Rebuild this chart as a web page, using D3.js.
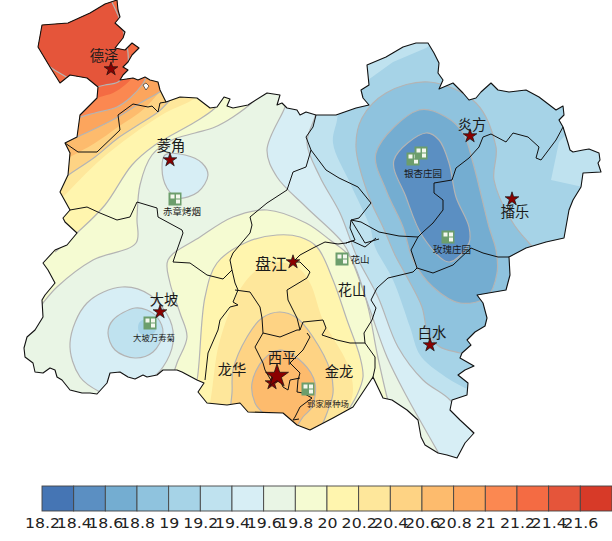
<!DOCTYPE html>
<html>
<head>
<meta charset="utf-8">
<script src="https://cdnjs.cloudflare.com/ajax/libs/d3/7.8.5/d3.min.js"></script>
<style>
  html, body { margin: 0; padding: 0; background: #fff; }
  svg { display: block; }
  text { font-family: "Noto Sans CJK SC", sans-serif; fill: #1a1a1a; }
  .legend-axis text { font-family: "DejaVu Sans", sans-serif; font-size: 13.7px; fill: #222; }
</style>
</head>
<body>
<div id="chart"></div>
<script>
// Mean temperature map.
// All geometry is in map units, pushed through the mapX/mapY scales below.

var legendTicks = [18.2,18.4,18.6,18.8,19,19.2,19.4,19.6,19.8,20,20.2,20.4,20.6,20.8,21,21.2,21.4,21.6];
var bandColors = ["#4575b4","#5b8fc2","#74add1","#8fc3de","#a6d3e7","#bfe2ef","#d7eef5","#e9f5e5","#f5fbd2",
                  "#fff5ae","#fee79b","#fed384","#fdbb6d","#fca55d","#fb8851","#f46b43","#e5553a","#d73a28"];

// outer boundary of the area
var outline = [[105,4],[117,0],[118,10],[120,17],[115,23],[125,32],[123,38],[115,48],[125,50],[132,43],[139,48],[132,55],[128,62],[123,67],[128,70],[123,75],[120,80],[133,78],[138,80],[145,77],[150,80],[158,82],[160,90],[166,102],[180,97],[197,98],[210,108],[217,107],[224,97],[230,99],[227,106],[233,108],[248,105],[267,93],[280,95],[277,105],[282,103],[287,108],[297,110],[300,115],[306,112],[316,115],[336,115],[356,108],[369,105],[363,98],[361,90],[369,85],[367,65],[386,57],[403,47],[416,43],[428,43],[434,53],[439,63],[438,73],[443,80],[439,89],[453,83],[463,93],[469,100],[476,98],[481,92],[491,83],[498,90],[509,92],[526,90],[539,97],[556,110],[563,106],[564,115],[559,120],[563,127],[568,143],[570,150],[573,152],[583,150],[589,149],[599,153],[600,160],[598,163],[601,172],[583,173],[581,187],[573,200],[569,210],[564,238],[546,242],[526,248],[509,257],[510,275],[506,290],[477,295],[483,303],[487,318],[485,326],[475,332],[467,340],[471,345],[462,353],[460,358],[474,366],[465,370],[458,375],[468,383],[467,395],[452,400],[450,410],[460,420],[474,433],[465,443],[457,458],[447,455],[438,453],[425,445],[421,437],[418,420],[407,410],[392,400],[383,398],[373,377],[353,407],[333,418],[310,430],[297,425],[283,413],[248,412],[240,403],[227,405],[207,403],[198,392],[204,383],[197,380],[182,372],[177,370],[163,370],[157,375],[147,377],[143,375],[135,379],[128,377],[120,372],[110,373],[107,383],[97,394],[90,393],[82,393],[70,390],[62,380],[57,377],[55,370],[50,368],[43,373],[35,372],[33,363],[25,357],[24,348],[27,337],[35,330],[43,317],[42,300],[45,295],[55,283],[48,270],[43,263],[55,250],[67,245],[77,233],[65,222],[63,218],[70,210],[60,192],[68,175],[70,153],[65,143],[77,137],[80,115],[97,98],[98,87],[87,78],[70,75],[60,83],[50,67],[38,47],[42,25],[68,23],[90,13]];
var outlineHole = [[143,85],[146,83],[149,86],[146,90]];

// county borders
var countyLines = [
  [[65,143],[78,152],[97,152],[120,130],[118,115],[133,104],[148,107],[152,106],[158,112],[160,103],[166,102]],
  [[70,210],[87,207],[100,213],[117,220],[130,217],[137,202],[157,208],[158,217],[182,230],[183,233],[177,250],[173,262],[190,263],[207,275],[223,279],[232,270]],
  [[316,115],[313,127],[306,137],[311,150],[306,167],[293,172],[287,190],[267,203],[250,217],[252,225],[250,233],[233,253],[230,260],[232,270],[235,283],[238,290],[233,302],[238,305],[230,307],[220,320],[218,330],[208,353],[205,380]],
  [[311,150],[326,170],[339,178],[358,187],[371,203],[359,218],[351,220],[361,222],[379,232],[399,236],[418,237],[423,232],[433,223],[443,210],[443,200],[434,193],[434,183],[452,180],[456,168],[469,158],[479,147],[483,137],[491,134],[506,142],[513,133],[528,137],[539,147],[536,158],[541,160],[556,140],[563,127]],
  [[351,220],[350,228],[355,240],[346,243],[338,244],[325,242],[313,248],[300,255],[293,262],[300,262],[310,272],[307,278],[287,290],[288,300],[297,318],[300,330],[297,330],[280,337],[263,333],[262,318],[260,307],[250,292],[235,290]],
  [[351,220],[359,233],[365,243],[379,239]],
  [[346,243],[352,241],[365,247],[376,238]],
  [[418,237],[411,250],[417,268],[433,273],[453,265],[471,248],[483,253],[498,257],[509,257]],
  [[417,268],[413,272],[388,278],[377,288],[371,300],[376,308],[372,320],[364,333],[365,343],[350,343],[337,340],[322,335],[326,328],[323,320],[303,322],[300,330]],
  [[307,333],[310,337],[303,350],[290,363],[300,373],[298,380],[297,392],[303,393],[312,398],[300,407],[295,417],[293,420],[299,419]],
  [[263,333],[255,347],[263,363],[265,370],[272,382],[280,380],[283,387],[288,390],[290,380],[300,378]],
  [[365,343],[375,357],[375,368],[373,377]]
];

// contour runs, warm side: [line, way round outside the area]
var nw198 = [[262,92],[255,100],[233,117],[215,127],[195,133],[172,140],[152,155],[140,185],[137,218],[136,243],[93,260],[57,287],[43,303],[30,320]];
var nw200 = [[232,85],[215,108],[195,122],[155,145],[132,165],[105,205],[78,232],[55,252]];
var nw202 = [[205,85],[195,98],[165,113],[132,135],[98,162],[65,195],[50,210]];
var nw204 = [[170,100],[158,112],[138,125],[118,138],[95,157],[67,176],[55,185]];
var nw206 = [[165,85],[145,108],[118,127],[95,143],[65,160],[50,170]];
var nw208 = [[170,85],[158,93],[142,102],[118,117],[88,132],[70,140],[55,147]];
var nw210 = [[146,78],[142,85],[130,98],[117,107],[95,113],[78,118],[65,125]];
var nw212 = [[138,72],[125,85],[113,93],[100,97],[80,105]];
var nw214 = [[110,-2],[120,20],[123,30],[128,53],[127,72],[118,82],[105,85],[85,88],[68,78],[50,67],[35,55]];
var so198 = [[170,385],[177,363],[187,337],[180,313],[170,283],[168,260],[200,237],[233,217],[267,210],[306,223],[330,240],[350,257],[367,303],[377,353],[387,397],[395,425]];
var so200 = [[192,395],[197,380],[205,297],[217,263],[247,242],[277,235],[300,237],[317,247],[333,280],[347,320],[360,357],[363,377],[357,395],[345,415]];
var so202 = [[205,420],[210,403],[220,340],[245,282],[270,263],[297,267],[310,283],[323,320],[347,363],[353,390],[345,420]];
var so204 = [[230,410],[232,393],[233,370],[247,337],[262,318],[280,312],[297,318],[313,337],[330,370],[333,393],[327,413],[320,430]];
var so206 = [[270,420],[263,413],[255,403],[252,383],[263,360],[280,350],[303,363],[315,383],[312,407],[303,417],[295,430]];

// contour runs, cold side
var ea196 = [[288,95],[285,107],[267,150],[277,177],[306,207],[343,243],[353,263],[370,310],[387,357],[407,397],[438,452],[445,465]];
var ea194 = [[318,105],[315,117],[307,143],[320,177],[340,213],[357,257],[378,297],[398,347],[423,380],[450,400],[473,433],[485,445]];
var ea192 = [[340,100],[337,120],[333,143],[350,183],[370,227],[375,247],[393,280],[410,327],[420,355],[440,373],[465,388],[485,395]];
var ea190 = [[472,357],[460,353],[440,347],[428,333],[422,307],[407,277],[395,255],[383,227],[369,197],[356,147],[362,118],[386,93],[429,82],[476,103],[496,147],[494,180],[513,223],[529,243],[540,255]];
var ea188 = [[419,110],[376,153],[386,190],[403,227],[413,260],[433,287],[460,303],[487,297],[497,273],[496,250],[489,227],[473,163],[463,133],[446,117]];
var ea186 = [[426,133],[394,160],[406,197],[423,237],[449,262],[469,243],[469,227],[456,197],[449,163],[439,140]];
var lingjiao196 = [[165,155],[162,168],[167,188],[178,198],[198,192],[208,175],[202,163],[185,155]];
var dapo196 = [[100,392],[80,377],[70,343],[87,303],[122,287],[150,295],[170,320],[173,343],[163,367],[150,380]];
var dapo194 = [[135,308],[113,320],[108,333],[115,350],[135,358],[153,352],[163,333],[157,317],[147,310]];
var dapo192 = [[146,319],[139,323],[139,332],[146,336],[155,332],[156,323]];

// value = middle of the band that lies on the inside of the run
var bandRegions = [
  {value:19.9, line:nw198, around:[[0,320],[0,0],[262,0]], drawn:true},
  {value:19.9, line:so198, around:[[395,470],[170,470]], drawn:true},
  {value:20.1, line:nw200, around:[[0,252],[0,0],[232,0]], drawn:true},
  {value:20.1, line:so200, around:[[345,470],[192,470]], drawn:true},
  {value:20.3, line:nw202, around:[[0,210],[0,0],[205,0]], drawn:false},
  {value:20.3, line:so202, around:[[345,470],[205,470]], drawn:false},
  {value:20.5, line:nw204, around:[[0,185],[0,0],[170,0]], drawn:true},
  {value:20.5, line:so204, around:[[320,470],[230,470]], drawn:true},
  {value:20.7, line:nw206, around:[[0,170],[0,0],[165,0]], drawn:false},
  {value:20.7, line:so206, around:[[295,470],[270,470]], drawn:true},
  {value:20.9, line:nw208, around:[[0,147],[0,0],[170,0]], drawn:true},
  {value:21.1, line:nw210, around:[[0,125],[0,0],[146,0]], drawn:true},
  {value:21.3, line:nw212, around:[[0,105],[0,0],[138,0]], drawn:false},
  {value:21.5, line:nw214, around:[[20,40],[20,-10]], drawn:true},
  {value:19.5, line:ea196, around:[[620,465],[620,20],[288,20]], drawn:true},
  {value:19.3, line:ea194, around:[[620,445],[620,20],[318,20]], drawn:true},
  {value:19.1, line:ea192, around:[[530,300],[590,200],[583,187],[551,180],[559,142],[575,125],[570,60],[445,35],[426,48],[393,62],[368,80]], drawn:false},
  {value:18.9, line:ea190, around:[[545,300],[480,365]], drawn:true},
  {value:18.7, line:ea188, closed:true, drawn:true},
  {value:18.5, line:ea186, closed:true, drawn:true},
  {value:19.5, line:lingjiao196, closed:true, drawn:true},
  {value:19.5, line:dapo196, around:[[150,400],[100,400]], drawn:true},
  {value:19.3, line:dapo194, closed:true, drawn:true},
  {value:19.1, line:dapo192, closed:true, drawn:false}
];

var townNames = ["德泽","菱角","大坡","盘江","西平","龙华","金龙","花山","白水","炎方","播乐"];
var townX = [104,171,164,271,282,232,339,352,432,472,515];
var townY = [54.5,144.5,298.5,262.5,356.5,368.5,370.5,288.5,331.5,123.5,210.5];
var starX = [111,170,160,293,272,430,470,512];
var starY = [69,160,312,262,383,345,136,199];
var capitalStar = [277,376];

var farmNames = ["赤章烤烟","大坡万寿菊","银杏庄园","玫瑰庄园","花山","郭家原种场"];
var farmLabelX = [182,154,423,452,360,328];
var farmLabelY = [211,337,173,249,259,403];
var farmIconX = [175,150,413,421,448,342,308];
var farmIconY = [199,323,159,153,237,259,389];

var width = 612, height = 541;

var svg = d3.select("#chart").append("svg")
    .attr("width", width)
    .attr("height", height);

var mapX = d3.scaleLinear().domain([0, 612]).range([0, width]);
var mapY = d3.scaleLinear().domain([0, 541]).range([0, height]);

var color = d3.scaleThreshold()
    .domain(legendTicks.slice(1))
    .range(bandColors);

var openLine = d3.line().x(function (d) { return mapX(d[0]); }).y(function (d) { return mapY(d[1]); }).curve(d3.curveCatmullRom.alpha(0.5));
var closedLine = d3.line().x(function (d) { return mapX(d[0]); }).y(function (d) { return mapY(d[1]); }).curve(d3.curveCatmullRomClosed.alpha(0.5));
var border = d3.line().x(function (d) { return mapX(d[0]); }).y(function (d) { return mapY(d[1]); });

svg.append("clipPath").attr("id", "area-clip")
    .append("path").attr("d", border(outline) + "Z");

var map = svg.append("g").attr("clip-path", "url(#area-clip)");

// whole area starts in the 19.6-19.8 band
map.append("path").attr("d", border(outline) + "Z").attr("fill", color(19.7));

function regionPath(r) {
  if (r.closed) return closedLine(r.line);
  return openLine(r.line) + r.around.map(function (p) {
    return "L" + mapX(p[0]) + "," + mapY(p[1]);
  }).join("") + "Z";
}

map.selectAll("path.band")
    .data(bandRegions)
    .enter().append("path")
    .attr("class", "band")
    .attr("d", regionPath)
    .attr("fill", function (d) { return color(d.value); });

map.selectAll("path.iso")
    .data(bandRegions.filter(function (d) { return d.drawn; }))
    .enter().append("path")
    .attr("class", "iso")
    .attr("d", function (d) { return d.closed ? closedLine(d.line) : openLine(d.line); })
    .attr("fill", "none")
    .attr("stroke", "#b4b4b4")
    .attr("stroke-width", 1.2);

// county borders and outline
svg.selectAll("path.county")
    .data(countyLines)
    .enter().append("path")
    .attr("class", "county")
    .attr("d", border)
    .attr("fill", "none")
    .attr("stroke", "#111")
    .attr("stroke-width", 1)
    .attr("stroke-linejoin", "round");

svg.append("path")
    .attr("d", border(outline) + "Z")
    .attr("fill", "none")
    .attr("stroke", "#111")
    .attr("stroke-width", 1.1)
    .attr("stroke-linejoin", "round");

svg.append("path")
    .attr("d", border(outlineHole) + "Z")
    .attr("fill", "#fff")
    .attr("stroke", "#111")
    .attr("stroke-width", 0.6);

// farm icons
var icons = svg.selectAll("g.farm")
    .data(farmIconX)
    .enter().append("g")
    .attr("class", "farm")
    .attr("transform", function (d, i) { return "translate(" + mapX(d) + "," + mapY(farmIconY[i]) + ")"; });

icons.append("rect")
    .attr("x", -6.5).attr("y", -6.5)
    .attr("width", 13).attr("height", 13)
    .attr("fill", "#6c9e6c");

icons.selectAll("rect.pane")
    .data([[-4.5,-4.5,4,4],[1,-4.5,4,4],[1,0.5,4,4]])
    .enter().append("rect")
    .attr("class", "pane")
    .attr("x", function (d) { return d[0]; })
    .attr("y", function (d) { return d[1]; })
    .attr("width", function (d) { return d[2]; })
    .attr("height", function (d) { return d[3]; })
    .attr("fill", "#f4f8ee");

// stars
var star = d3.symbol().type(d3.symbolStar);

svg.selectAll("path.star")
    .data(starX)
    .enter().append("path")
    .attr("class", "star")
    .attr("transform", function (d, i) { return "translate(" + mapX(d) + "," + mapY(starY[i]) + ")"; })
    .attr("d", star.size(58)())
    .attr("fill", "#8b0000")
    .attr("stroke", "#111")
    .attr("stroke-width", 0.7);

svg.append("path")
    .attr("transform", "translate(" + mapX(capitalStar[0]) + "," + mapY(capitalStar[1]) + ")")
    .attr("d", star.size(165)())
    .attr("fill", "#8b0000")
    .attr("stroke", "#111")
    .attr("stroke-width", 0.7);

// names
svg.selectAll("text.town")
    .data(townNames)
    .enter().append("text")
    .attr("class", "town")
    .attr("x", function (d, i) { return mapX(townX[i]); })
    .attr("y", function (d, i) { return mapY(townY[i]); })
    .attr("text-anchor", "middle")
    .attr("dominant-baseline", "central")
    .attr("font-size", function (d) { return d === "盘江" ? 16 : 14.3; })
    .text(function (d) { return d; });

svg.selectAll("text.farmname")
    .data(farmNames)
    .enter().append("text")
    .attr("class", "farmname")
    .attr("x", function (d, i) { return mapX(farmLabelX[i]); })
    .attr("y", function (d, i) { return mapY(farmLabelY[i]); })
    .attr("text-anchor", "middle")
    .attr("dominant-baseline", "central")
    .attr("font-size", function (d) { return d.length === 5 ? 8.4 : 9.5; })
    .text(function (d) { return d; });

// colour bar
var legendX = d3.scalePoint().domain(legendTicks).range([42, 580.3]);
var boxWidth = legendX.step();

svg.selectAll("rect.legend-box")
    .data(legendTicks)
    .enter().append("rect")
    .attr("class", "legend-box")
    .attr("x", function (d) { return legendX(d); })
    .attr("y", 486)
    .attr("width", boxWidth)
    .attr("height", 25)
    .attr("fill", function (d, i) { return bandColors[i]; })
    .attr("stroke", "#444")
    .attr("stroke-width", 0.9);

var legendAxis = d3.axisBottom(legendX).tickSize(0).tickFormat(function (d) { return d; });

svg.append("g")
    .attr("class", "legend-axis")
    .attr("transform", "translate(0,528)")
    .call(legendAxis)
    .call(function (g) { g.select(".domain").remove(); })
    .selectAll("text")
    .attr("font-size", null)
    .attr("y", 0)
    .attr("dy", 0)
    .attr("transform", "scale(1.15,1)");
</script>
</body>
</html>
